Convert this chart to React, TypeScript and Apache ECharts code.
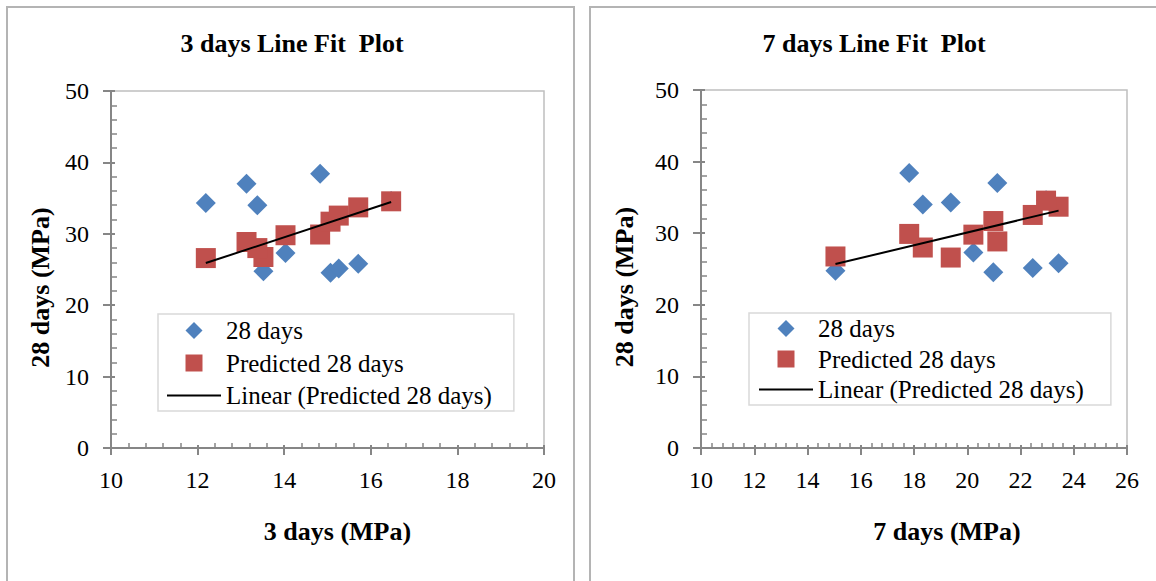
import React, { useEffect, useRef } from "react";
import * as echarts from "echarts";

// Ten samples: 3-day, 7-day strength, measured 28-day strength, predicted 28-day strength
const days3 = [12.19, 13.52, 13.38, 13.13, 14.03, 14.83, 15.07, 15.26, 15.71, 16.47];
const days7 = [19.38, 15.05, 18.33, 21.13, 20.23, 17.82, 20.98, 22.46, 23.43, 22.96];
const days28 = [34.3, 24.75, 34.0, 37.0, 27.3, 38.4, 24.55, 25.15, 25.8, 34.6];
const predicted28 = [26.6, 26.75, 28.0, 28.85, 29.8, 29.9, 31.7, 32.55, 33.7, 34.55];

// Linear trend line endpoints
const trend3 = [
  [12.19, 25.9],
  [16.47, 34.45],
];
const trend7 = [
  [15.05, 25.69],
  [23.43, 33.15],
];

const titles = ["3 days Line Fit  Plot", "7 days Line Fit  Plot"];
const xNames = ["3 days (MPa)", "7 days (MPa)"];
const yName = "28 days (MPa)";
const legendNames = ["28 days", "Predicted 28 days", "Linear (Predicted 28 days)"];

const FONT = "'Liberation Serif', 'Times New Roman', serif";
const AXIS = "#868686";

const ICON_DIAMOND = "path://M0,0M54,17M27,0L35.5,8.5L27,17L18.5,8.5Z";
const ICON_SQUARE = "path://M0,0M54,17M18.5,0L35.5,0L35.5,17L18.5,17Z";
const ICON_LINE = "path://M0,0M54,17M0,7.5L54,7.5L54,9.5L0,9.5Z";

function mainX(gridIndex: number, min: number, max: number, name: string, shift: number) {
  return {
    type: "value",
    gridIndex,
    position: "bottom",
    min,
    max,
    interval: 2,
    name,
    nameLocation: "middle",
    nameGap: 70,
    nameTextStyle: {
      fontFamily: FONT,
      fontWeight: "bold",
      fontSize: 26,
      color: "#000",
      padding: [0, 0, 0, shift * 2],
    },
    axisLine: { show: true, onZero: false, lineStyle: { color: AXIS, width: 2 } },
    axisTick: { show: true, length: 7, lineStyle: { color: AXIS, width: 2 } },
    axisLabel: { fontFamily: FONT, fontSize: 24, color: "#000", margin: 20 },
    splitLine: { show: false },
  };
}
function overlayX(gridIndex: number, min: number, max: number) {
  return {
    type: "value",
    gridIndex,
    position: "bottom",
    min,
    max,
    interval: 2,
    axisLine: { show: false },
    axisTick: { show: true, inside: true, length: 3, lineStyle: { color: AXIS, width: 2 } },
    minorTick: { show: true, splitNumber: 5, length: 5, lineStyle: { color: AXIS, width: 1.5 } },
    axisLabel: { show: false },
    splitLine: { show: false },
  };
}
function mainY(gridIndex: number, gap: number) {
  return {
    type: "value",
    gridIndex,
    position: "left",
    min: 0,
    max: 50,
    interval: 10,
    name: yName,
    nameLocation: "middle",
    nameGap: gap,
    nameTextStyle: {
      fontFamily: FONT,
      fontWeight: "bold",
      fontSize: 26,
      color: "#000",
      padding: [0, 36, 0, 0],
    },
    axisLine: { show: true, onZero: false, lineStyle: { color: AXIS, width: 2 } },
    axisTick: { show: true, length: 8, lineStyle: { color: AXIS, width: 2 } },
    axisLabel: { fontFamily: FONT, fontSize: 24, color: "#000", margin: 22 },
    splitLine: { show: false },
  };
}
function overlayY(gridIndex: number) {
  return {
    type: "value",
    gridIndex,
    position: "left",
    min: 0,
    max: 50,
    interval: 10,
    axisLine: { show: false },
    axisTick: { show: true, inside: true, length: 4, lineStyle: { color: AXIS, width: 2 } },
    minorTick: { show: true, splitNumber: 5, length: 6, lineStyle: { color: AXIS, width: 1.5 } },
    axisLabel: { show: false },
    splitLine: { show: false },
  };
}

function seriesFor(xs: number[], trend: number[][], axisIndex: number) {
  return [
    {
      type: "scatter",
      name: legendNames[0],
      xAxisIndex: axisIndex,
      yAxisIndex: axisIndex,
      symbol: "diamond",
      symbolSize: 20,
      itemStyle: { color: "#4F81BD", opacity: 1 },
      data: xs.map((x, i) => [x, days28[i]]),
    },
    {
      type: "scatter",
      name: legendNames[1],
      xAxisIndex: axisIndex,
      yAxisIndex: axisIndex,
      symbol: "rect",
      symbolSize: 20,
      itemStyle: { color: "#C0504D", opacity: 1 },
      data: xs.map((x, i) => [x, predicted28[i]]),
    },
    {
      type: "line",
      name: legendNames[2],
      xAxisIndex: axisIndex,
      yAxisIndex: axisIndex,
      symbol: "none",
      showSymbol: false,
      lineStyle: { color: "#000", width: 2 },
      itemStyle: { color: "#000" },
      data: trend,
    },
  ];
}

function legendAt(left: number, top: number, itemGap: number, padding: number[]) {
  return {
    data: [
      { name: legendNames[0], icon: ICON_DIAMOND, itemStyle: { color: "#4F81BD" } },
      { name: legendNames[1], icon: ICON_SQUARE, itemStyle: { color: "#C0504D" } },
      { name: legendNames[2], icon: ICON_LINE, itemStyle: { color: "#000" } },
    ],
    orient: "vertical",
    left,
    top,
    itemWidth: 54,
    itemHeight: 17,
    itemGap,
    padding,
    selectedMode: false,
    backgroundColor: "#fff",
    borderColor: "#d9d9d9",
    borderWidth: 1.5,
    textStyle: { fontFamily: FONT, fontSize: 25, color: "#000" },
  };
}

export default function App() {
  const ref = useRef<HTMLDivElement>(null);
  useEffect(() => {
    const chart = echarts.init(ref.current as HTMLDivElement, null, { renderer: "svg" });
    const titleStyle = { fontFamily: FONT, fontWeight: "bold", fontSize: 26, color: "#000" };
    const option: any = {
      animation: false,
      backgroundColor: "#fff",
      title: [
        { text: titles[0], left: 292, top: 30, textAlign: "center", padding: 0, textStyle: titleStyle },
        { text: titles[1], left: 874, top: 30, textAlign: "center", padding: 0, textStyle: titleStyle },
      ],
      graphic: [
        {
          type: "rect",
          silent: true,
          shape: { x: 7, y: 7, width: 567, height: 640 },
          style: { fill: "none", stroke: "#b4b4b4", lineWidth: 2 },
        },
        {
          type: "rect",
          silent: true,
          shape: { x: 590, y: 7, width: 640, height: 640 },
          style: { fill: "none", stroke: "#b4b4b4", lineWidth: 2 },
        },
      ],
      grid: [
        { left: 111, top: 91, width: 433, height: 357, show: true, borderColor: "#bfbfbf", borderWidth: 1.5, backgroundColor: "transparent" },
        { left: 701, top: 90, width: 426, height: 358, show: true, borderColor: "#bfbfbf", borderWidth: 1.5, backgroundColor: "transparent" },
      ],
      xAxis: [
        mainX(0, 10, 20, xNames[0], 10),
        overlayX(0, 10, 20),
        mainX(1, 10, 26, xNames[1], 33),
        overlayX(1, 10, 26),
      ],
      yAxis: [mainY(0, 58), overlayY(0), mainY(1, 64), overlayY(1)],
      legend: [
        legendAt(158, 314, 7.5, [4, 22, 3, 9]),
        legendAt(749, 313, 5.5, [3, 27, 3, 10]),
      ],
      series: [...seriesFor(days3, trend3, 0), ...seriesFor(days7, trend7, 2)],
    };
    chart.setOption(option);
    return () => chart.dispose();
  }, []);
  return (
    <div
      ref={ref}
      style={{ position: "absolute", left: 0, top: 0, width: 1156, height: 581, background: "#fff" }}
    />
  );
}
